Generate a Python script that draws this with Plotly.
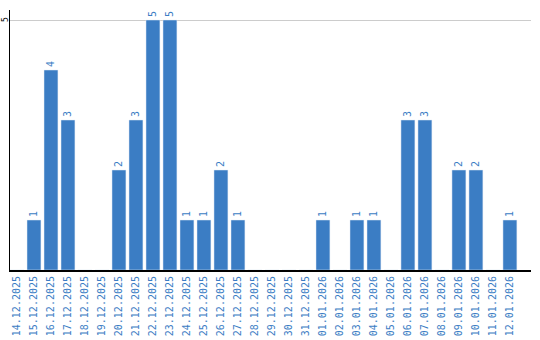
import plotly.graph_objects as go

dates = ["14.12.2025","15.12.2025","16.12.2025","17.12.2025","18.12.2025","19.12.2025",
         "20.12.2025","21.12.2025","22.12.2025","23.12.2025","24.12.2025","25.12.2025",
         "26.12.2025","27.12.2025","28.12.2025","29.12.2025","30.12.2025","31.12.2025",
         "01.01.2026","02.01.2026","03.01.2026","04.01.2026","05.01.2026","06.01.2026",
         "07.01.2026","08.01.2026","09.01.2026","10.01.2026","11.01.2026","12.01.2026"]
values = [0,1,4,3,0,0,2,3,5,5,1,1,2,1,0,0,0,0,1,0,1,1,0,3,3,0,2,2,0,1]
y_ticks = [5]

color = "#3b7dc4"
labels = [str(v) if v > 0 else "" for v in values]

fig = go.Figure(go.Bar(
    x=list(range(len(dates))), y=values, marker_color=color, width=0.82,
    text=labels, textposition="outside", textangle=-90,
    textfont=dict(color=color, size=10, family="DejaVu Sans Mono"),
    cliponaxis=False,
))
fig.update_layout(
    width=540, height=340, margin=dict(l=10, r=9, t=10, b=70),
    plot_bgcolor="white", paper_bgcolor="white", showlegend=False,
    bargap=0.18,
)
for t in y_ticks:
    fig.add_annotation(
        xref="paper", x=0, xshift=-5, xanchor="center", yref="y", y=t, yanchor="middle",
        text=str(t), textangle=-90, showarrow=False,
        font=dict(color="black", size=8, family="DejaVu Sans Mono"),
    )
fig.update_xaxes(
    range=[-0.41, 30.24], tickmode="array", tickvals=list(range(len(dates))), ticktext=dates,
    tickangle=-90, tickfont=dict(color=color, size=10, family="DejaVu Sans Mono"),
    showline=True, linecolor="black", linewidth=2, showgrid=False, ticks="", zeroline=False,
    automargin=False,
)
fig.update_yaxes(
    range=[0, 5.2], tickvals=y_ticks, showticklabels=False,
    showline=True, linecolor="black", linewidth=1, showgrid=True, gridcolor="#cccccc",
    zeroline=False, ticks="", automargin=False,
)
fig.write_html("out.html")
